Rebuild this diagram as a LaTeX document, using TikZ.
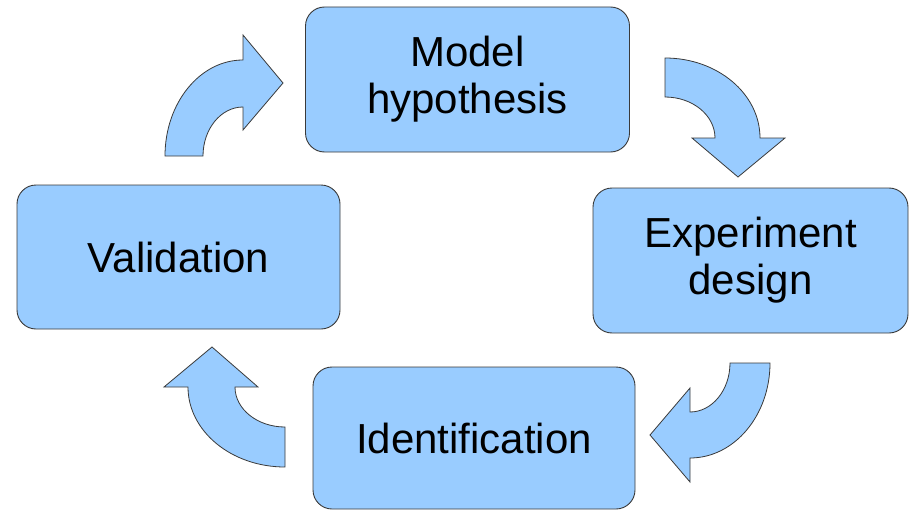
\documentclass[tikz,border=0pt]{standalone}
\usepackage{fontspec}
\setmainfont{Liberation Sans}
\usepackage{xcolor}
\usepackage{tikz}

\definecolor{boxblue}{HTML}{99CCFF}
\definecolor{edgegray}{HTML}{3A3A3A}

\tikzset{
    stage/.style={draw=edgegray, fill=boxblue, line width=0.9pt, rounded corners=19pt,
        align=center, inner sep=0pt, font=\fontsize{42}{47}\selectfont},
    bentarrow/.style={draw=edgegray, fill=boxblue, line width=0.8pt, line join=miter}
}

\begin{document}
\begin{tikzpicture}[x=1pt, y=-1pt]
        \useasboundingbox (0,0) rectangle (910,511);

        % 四个步骤框
        \node[stage, minimum width=324pt, minimum height=145pt] (model) at (467.5,79.5) {Model\\hypothesis};
        \node[stage, minimum width=315pt, minimum height=145pt] (exper) at (750.5,260.5) {Experiment\\design};
        \node[stage, minimum width=322pt, minimum height=142pt] (ident) at (474,438) {Identification};
        \node[stage, minimum width=323pt, minimum height=144pt] (valid) at (178.5,257) {Validation};

        % 左上箭头: Validation -> Model hypothesis
        \draw[bentarrow] (165,156) arc[start angle=180, end angle=270, x radius=78, y radius=96]
            -- (243,35) -- (283,83) -- (243,130) -- (243,107)
            arc[start angle=270, end angle=180, x radius=40, y radius=49] -- cycle;

        % 右上箭头: Model hypothesis -> Experiment design
        \draw[bentarrow] (665,58) arc[start angle=270, end angle=360, x radius=95, y radius=80]
            -- (785,138) -- (738,177) -- (692,138) -- (715,138)
            arc[start angle=0, end angle=-90, x radius=50, y radius=41] -- cycle;

        % 右下箭头: Experiment design -> Identification
        \draw[bentarrow] (770,363) arc[start angle=0, end angle=90, x radius=80, y radius=95]
            -- (690,482) -- (650,435) -- (690,388) -- (690,412)
            arc[start angle=90, end angle=0, x radius=40, y radius=49] -- cycle;

        % 左下箭头: Identification -> Validation
        \draw[bentarrow] (285,467) arc[start angle=90, end angle=180, x radius=97, y radius=80]
            -- (164,387) -- (212,347) -- (258,387) -- (235,387)
            arc[start angle=180, end angle=90, x radius=50, y radius=40] -- cycle;
\end{tikzpicture}
\end{document}
